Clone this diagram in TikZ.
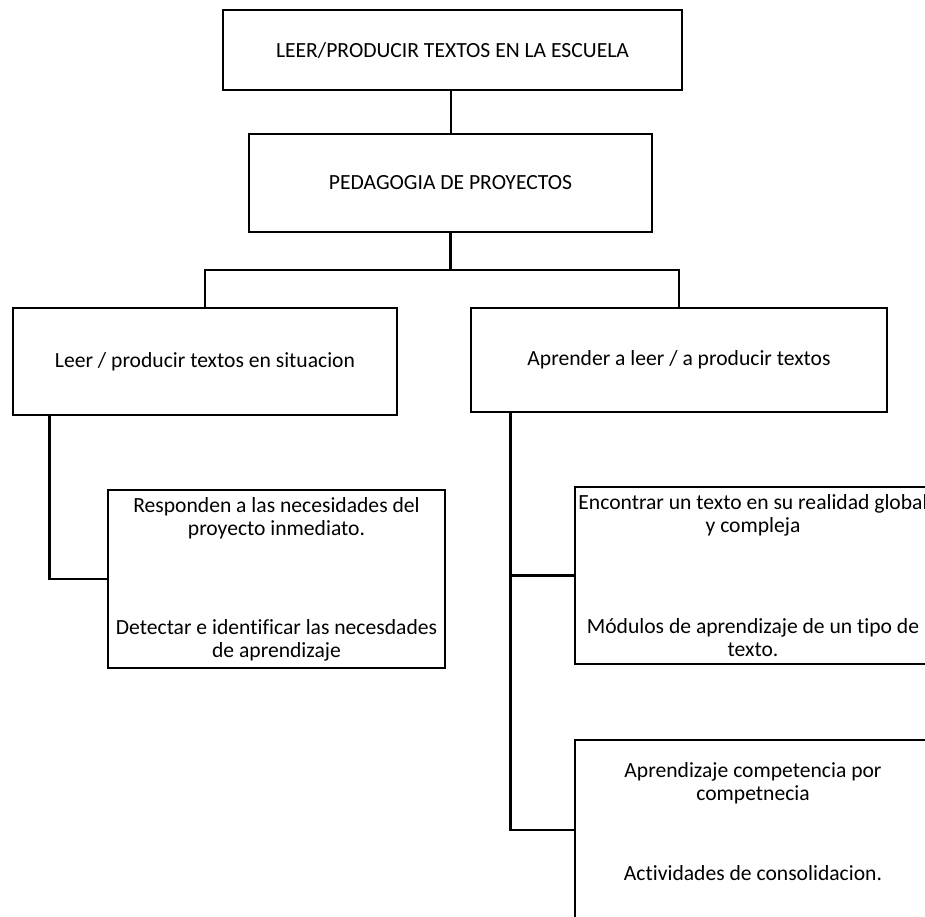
\documentclass[tikz,border=0pt]{standalone}
\usepackage{fontspec}
\setmainfont{Carlito}[Ligatures=CommonOff]
\begin{document}
\begin{tikzpicture}[x=1pt,y=-1pt,
  box/.style={draw=black,line width=2.6pt,rectangle,inner sep=0pt,align=center,
    font=\fontsize{21.6}{23}\selectfont},
  link/.style={draw=black,line width=2.6pt}]
\useasboundingbox (0,0) rectangle (925,916);
\fill[white] (0,0) rectangle (925,916);
\begin{scope}
\clip (0,0) rectangle (925,916);
\node[box,minimum width=459pt,minimum height=80pt] (top) at (452.5,50) {LEER/PRODUCIR TEXTOS EN LA ESCUELA};
\node[box,minimum width=403pt,minimum height=98pt] (ped) at (450.5,183) {PEDAGOGIA DE PROYECTOS};
\node[box,minimum width=384pt,minimum height=107pt] (L) at (205,361.5) {Leer / producir textos en situacion};
\node[box,minimum width=416pt,minimum height=104pt] (R) at (679,360) {Aprender a leer / a producir textos};
\node[box,minimum width=337pt,minimum height=178pt] (LS) at (276.5,579) {Responden a las necesidades del\\proyecto inmediato.\\[76pt]Detectar e identificar las necesdades\\de aprendizaje};
\node[box,minimum width=356pt,minimum height=177pt] (RS1) at (753,575.5) {Encontrar un texto en su realidad global\\y compleja\\[78pt]Módulos de aprendizaje de un tipo de\\texto.};
\node[box,minimum width=356pt,minimum height=180pt] (RS2) at (753,830) {Aprendizaje competencia por\\competnecia\\[57pt]Actividades de consolidacion.\rule[-18pt]{0pt}{0pt}};
\end{scope}
\coordinate (j) at (450.5,270);
\draw[link] ([xshift=-1.5pt]top.south) -- ([xshift=0.5pt]ped.north);
\draw[link] (ped.south) -- (j);
\draw[link] (L.north) |- (j) -| (R.north);
\draw[link] ([xshift=38pt]L.south west) |- (LS.west);
\draw[link] ([xshift=41pt]R.south west) |- (RS2.west);
\draw[link] ([xshift=41pt]R.south west |- RS1.west) -- (RS1.west);
\end{tikzpicture}
\end{document}
